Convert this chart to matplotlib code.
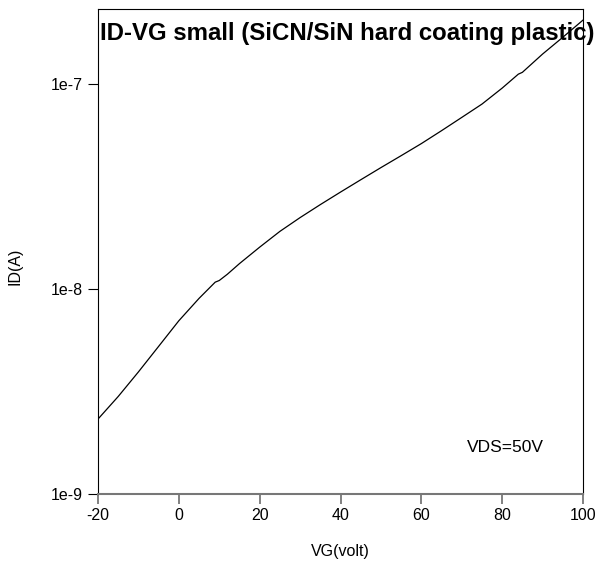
import numpy as np
import matplotlib
matplotlib.use('Agg')
import matplotlib.pyplot as plt
from matplotlib.ticker import FixedLocator, FixedFormatter, NullLocator

plt.rcParams['font.family'] = ['Liberation Sans', 'DejaVu Sans']
plt.rcParams['axes.unicode_minus'] = False

# ID-VG transfer curve
vg = [-20, -15, -10, -5, 0, 5, 9, 10, 12, 15, 20, 25, 30, 35, 40, 45, 50,
      55, 60, 65, 70, 75, 80, 84, 85, 90, 95, 100]
id_a = [2.32e-9, 2.99e-9, 3.94e-9, 5.25e-9, 7.0e-9, 9.0e-9, 1.08e-8, 1.10e-8,
        1.18e-8, 1.33e-8, 1.60e-8, 1.91e-8, 2.23e-8, 2.58e-8, 2.97e-8,
        3.41e-8, 3.91e-8, 4.47e-8, 5.12e-8, 5.92e-8, 6.87e-8, 7.98e-8,
        9.55e-8, 1.117e-7, 1.14e-7, 1.40e-7, 1.69e-7, 2.05e-7]

xticks = [-20, 0, 20, 40, 60, 80, 100]
yticks = [1e-9, 1e-8, 1e-7]
ytick_labels = ['1e-9', '1e-8', '1e-7']

fig = plt.figure(figsize=(6.03, 5.69), dpi=100)
ax = fig.add_axes([98/603, 75/569, 485/603, 485/569])

ax.plot(vg, id_a, color='black', lw=0.9)
ax.set_yscale('log')
ax.set_xlim(-20, 100)
ax.set_ylim(1e-9, 10**(-9 + 485/205))

ax.xaxis.set_major_locator(FixedLocator(xticks))
ax.yaxis.set_major_locator(FixedLocator(yticks))
ax.yaxis.set_major_formatter(FixedFormatter(ytick_labels))
ax.yaxis.set_minor_locator(NullLocator())
ax.tick_params(axis='both', direction='out', length=7, labelsize=11.5)
ax.tick_params(axis='x', color='#777777', width=1.3, pad=3)
ax.tick_params(axis='y', width=0.8, pad=4)

for s in ['left', 'right', 'top']:
    ax.spines[s].set_linewidth(0.8)
ax.spines['bottom'].set_color('#777777')
ax.spines['bottom'].set_linewidth(1.5)

ax.set_xlabel('VG(volt)', fontsize=11.5, labelpad=15)
ax.set_ylabel('ID(A)', fontsize=11.5)
ax.yaxis.set_label_coords(-0.155, 0.47)

ax.text(0.513, 0.95, 'ID-VG small (SiCN/SiN hard coating plastic)',
        transform=ax.transAxes, ha='center', va='center',
        fontsize=17.3, fontweight='bold')
ax.text(0.84, 0.095, 'VDS=50V', transform=ax.transAxes, ha='center',
        va='center', fontsize=12.5)

fig.savefig('out.png', dpi=100)
